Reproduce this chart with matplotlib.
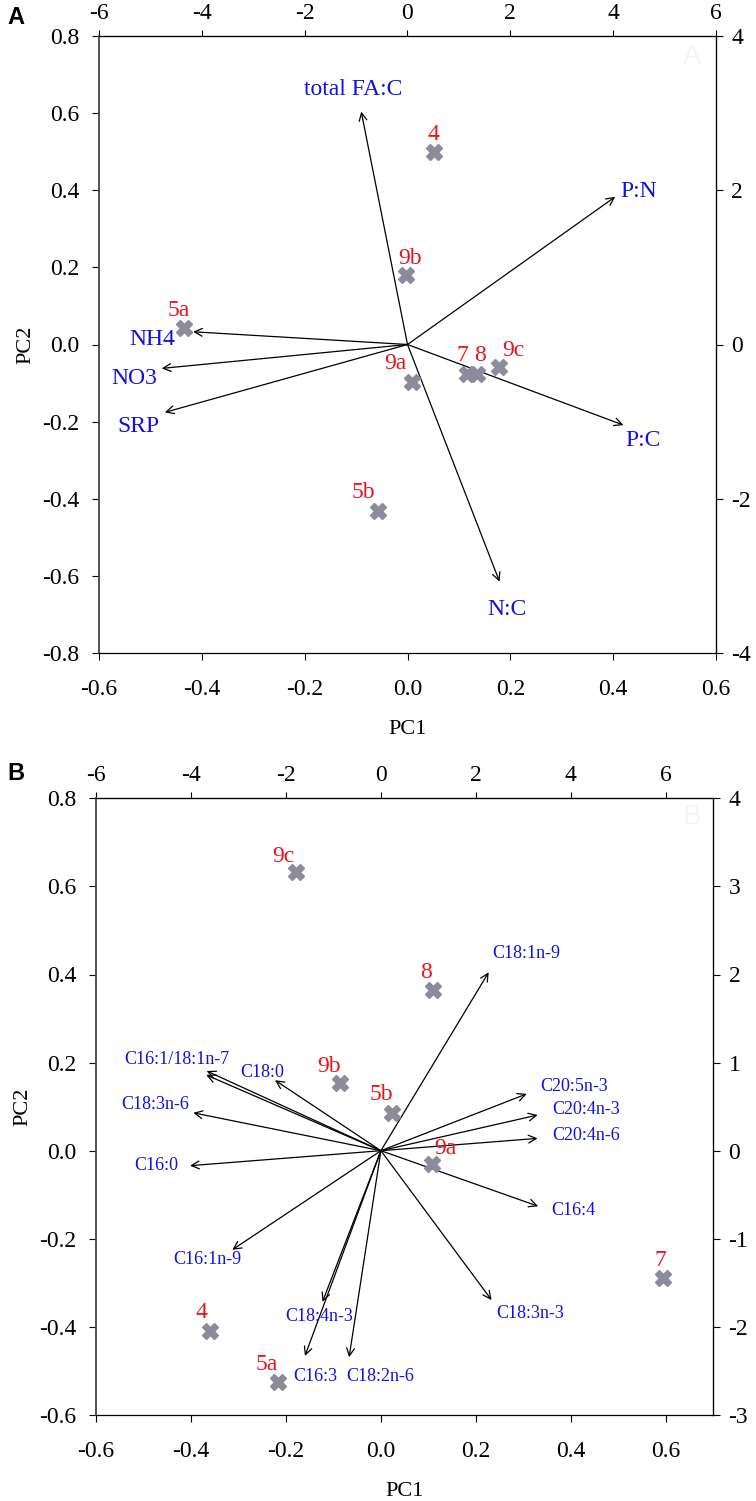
import matplotlib
matplotlib.use("Agg")
import matplotlib.pyplot as plt
import numpy as np

plt.rcParams['font.family'] = ['Liberation Serif', 'DejaVu Serif']
plt.rcParams['axes.unicode_minus'] = False

# ---------------- data: panel A ----------------
A_sites = ['4', '9b', '5a', '9a', '7', '8', '9c', '5b']
A_pc1 = [0.052, -0.002, -0.435, 0.009, 0.115, 0.135, 0.178, -0.057]
A_pc2 = [0.50, 0.18, 0.042, -0.096, -0.077, -0.077, -0.059, -0.432]

A_vars = ['total FA:C', 'P:N', 'NH4', 'NO3', 'SRP', 'P:C', 'N:C']
A_load1 = [-0.090, 0.404, -0.417, -0.478, -0.472, 0.420, 0.179]
A_load2 = [0.604, 0.383, 0.033, -0.062, -0.176, -0.209, -0.615]

# ---------------- data: panel B ----------------
B_sites = ['9c', '8', '9b', '5b', '9a', '7', '4', '5a']
B_pc1 = [-0.179, 0.109, -0.086, 0.0225, 0.107, 0.594, -0.359, -0.216]
B_pc2 = [0.633, 0.365, 0.153, 0.086, -0.031, -0.29, -0.409, -0.524]

B_vars = ['C18:1n-9', 'C20:5n-3', 'C20:4n-3', 'C20:4n-6', 'C16:4', 'C18:3n-3',
          'C18:2n-6', 'C16:3', 'C18:4n-3', 'C16:1n-9', 'C16:0', 'C18:3n-6',
          'C16:1/18:1n-7', '', 'C18:0']
B_load1 = [0.227, 0.307, 0.330, 0.330, 0.331, 0.233, -0.067, -0.160, -0.123,
           -0.313, -0.402, -0.395, -0.367, -0.368, -0.223]
B_load2 = [0.405, 0.129, 0.081, 0.028, -0.126, -0.339, -0.469, -0.466, -0.343,
           -0.225, -0.034, 0.086, 0.181, 0.172, 0.160]

# tick values
A_xticks = [-0.6, -0.4, -0.2, 0.0, 0.2, 0.4, 0.6]
A_yticks = [-0.8, -0.6, -0.4, -0.2, 0.0, 0.2, 0.4, 0.6, 0.8]
A_topticks = [-6, -4, -2, 0, 2, 4, 6]
A_rightticks = [-4, -2, 0, 2, 4]
B_xticks = [-0.6, -0.4, -0.2, 0.0, 0.2, 0.4, 0.6]
B_yticks = [-0.6, -0.4, -0.2, 0.0, 0.2, 0.4, 0.6, 0.8]
B_topticks = [-6, -4, -2, 0, 2, 4, 6]
B_rightticks = [-3, -2, -1, 0, 1, 2, 3, 4]

# ---------------- label placement (style, pixels) ----------------
A_site_off = [(-1, 17), (4, 17), (-5, 18), (-17, 18), (-4, 19), (3, 19), (14, 17), (-15, 19)]
A_var_off = [(-8, 22), (23, 5), (-41, -8), (-27, -10), (-26, -14), (20, -15), (7, -28)]
B_site_off = [(-13, 15), (-7, 17), (-11, 17), (-10, 18), (14, 16), (-3, 18), (-9, 18), (-12, 17)]
B_var_off = [(38, 19), (47, 7), (49, 6), (49, 3), (35, -4), (39, -13), (31, -19), (10, -21),
             (-3, -15), (-25, -10), (-34, 0), (-38, 8), (-30, 11), (0, 0), (-13, 8)]

RED = '#e8161b'
BLUE = '#1010e0'
GRAY = '#8b8b9b'

fig = plt.figure(figsize=(7.56, 15.01), dpi=100)
fmt1 = matplotlib.ticker.FuncFormatter(lambda v, p: '%.1f' % (0.0 if abs(v) < 1e-9 else v))
fmt0 = matplotlib.ticker.FuncFormatter(lambda v, p: '%d' % int(round(v)))


def panel(rect, xlim, ylim, xticks, yticks, topticks, rightticks, yfac,
          sites, p1, p2, soff, vars_, l1, l2, voff, vfs, letter, letter_xy, ghost_xy):
    ax = fig.add_axes(rect)
    ax.set_xlim(*xlim)
    ax.set_ylim(*ylim)
    ax.set_xticks(xticks)
    ax.set_yticks(yticks)
    ax.xaxis.set_major_formatter(fmt1)
    ax.yaxis.set_major_formatter(fmt1)
    ax.tick_params(direction='out', length=5, width=0.8, labelsize=17)
    ax.tick_params(axis='x', pad=14)
    ax.tick_params(axis='y', pad=9)
    for s in ax.spines.values():
        s.set_linewidth(0.9)
    ax.spines['left'].set_color('#444444')
    ax.spines['left'].set_linewidth(1.3)

    top = ax.secondary_xaxis('top', functions=(lambda x: x * 10, lambda x: x / 10))
    top.set_xticks(topticks)
    top.xaxis.set_major_formatter(fmt0)
    top.tick_params(direction='out', length=4.5, width=0.8, labelsize=17, pad=4)
    right = ax.secondary_yaxis('right', functions=(lambda y: y * yfac, lambda y: y / yfac))
    right.set_yticks(rightticks)
    right.yaxis.set_major_formatter(fmt0)
    right.tick_params(direction='out', length=5, width=0.8, labelsize=17, pad=6)

    ax.set_xlabel('PC1', fontsize=16, labelpad=14)
    ax.set_ylabel('PC2', fontsize=16, labelpad=5)

    for name, a, b, (dx, dy) in zip(vars_, l1, l2, voff):
        ax.annotate('', xy=(a, b), xytext=(0, 0),
                    arrowprops=dict(arrowstyle='->', lw=0.9, color='black',
                                    mutation_scale=14, shrinkA=0, shrinkB=0))
        if name:
            ax.annotate(name, xy=(a, b), xytext=(dx, dy), textcoords='offset pixels',
                        ha='center', va='center', color=BLUE, fontsize=vfs)

    ax.plot(p1, p2, linestyle='none', marker='X', markersize=11,
            color=GRAY, markeredgecolor=GRAY, zorder=5)
    for name, a, b, (dx, dy) in zip(sites, p1, p2, soff):
        ax.annotate(name, xy=(a, b), xytext=(dx, dy), textcoords='offset pixels',
                    ha='center', va='center', color=RED, fontsize=17)

    fig.text(letter_xy[0], letter_xy[1], letter, fontsize=17, fontweight='bold',
             family=['Liberation Sans', 'DejaVu Sans'], ha='center', va='center')
    fig.text(ghost_xy[0], ghost_xy[1], letter, fontsize=20,
             family=['Liberation Sans', 'DejaVu Sans'], ha='center', va='center',
             color='#f5f5f5')
    return ax


W, H = 756.0, 1501.0
panel([99 / W, 1 - 653 / H, 617 / W, 617 / H], (-0.6, 0.6), (-0.8, 0.8),
      A_xticks, A_yticks, A_topticks, A_rightticks, 5,
      A_sites, A_pc1, A_pc2, A_site_off, A_vars, A_load1, A_load2, A_var_off, 17,
      'A', (16 / W, 1 - 17 / H), (692 / W, 1 - 57 / H))

panel([96 / W, 1 - 1415 / H, 617.3 / W, 616.7 / H], (-0.6, 0.7), (-0.6, 0.8),
      B_xticks, B_yticks, B_topticks, B_rightticks, 5,
      B_sites, B_pc1, B_pc2, B_site_off, B_vars, B_load1, B_load2, B_var_off, 13,
      'B', (16 / W, 1 - 773 / H), (692 / W, 1 - 817 / H))

fig.savefig('out.png', dpi=100)
